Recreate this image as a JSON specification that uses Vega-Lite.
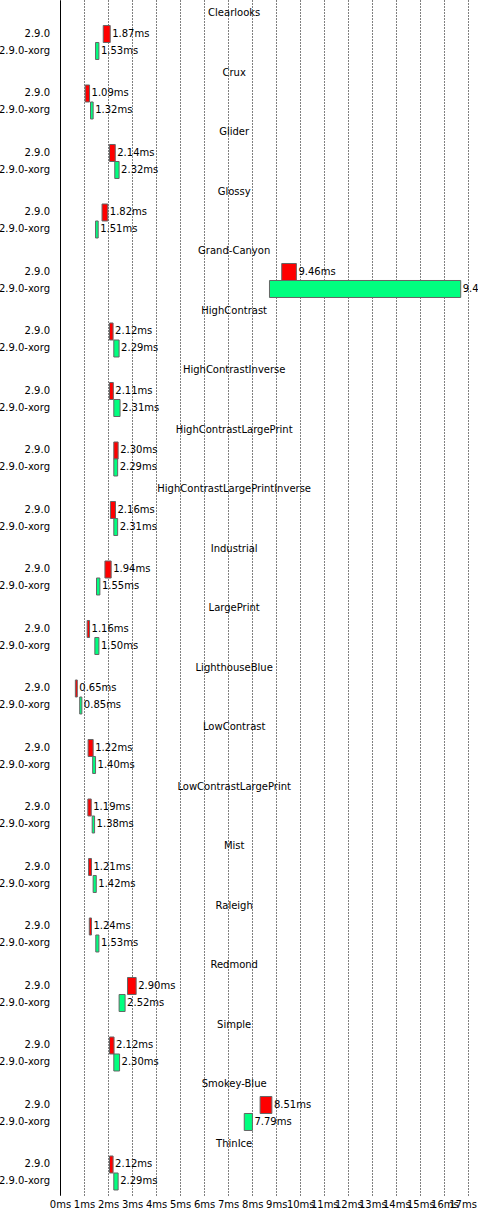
{
  "$schema": "https://vega.github.io/schema/vega-lite/v6.json",
  "autosize": {"type": "none"},
  "padding": {"left": 60, "top": 0, "right": 0, "bottom": 32},
  "width": 418,
  "height": 1195,
  "background": "white",
  "config": {
    "font": "DejaVu Sans",
    "view": {"stroke": null},
    "text": {"fontSize": 10, "font": "DejaVu Sans", "color": "black"},
    "axisX": {
      "values": [0, 1, 2, 3, 4, 5, 6, 7, 8, 9, 10, 11, 12, 13, 14, 15, 16, 17],
      "tickCount": 18,
      "labelExpr": "datum.value + 'ms'",
      "title": null,
      "domain": false,
      "ticks": false,
      "grid": true,
      "gridColor": "black",
      "gridDash": [1, 2],
      "gridOpacity": 1,
      "labelOverlap": false,
      "labelFlush": false,
      "labelPadding": 4,
      "labelFontSize": 10,
      "labelColor": "black",
      "labelFont": "DejaVu Sans"
    }
  },
  "data": {
    "values": [
      {"theme": "Clearlooks", "version": "2.9.0", "lo": 1.80, "hi": 2.09, "mean": 1.87},
      {"theme": "Clearlooks", "version": "2.9.0-xorg", "lo": 1.48, "hi": 1.62, "mean": 1.53},
      {"theme": "Crux", "version": "2.9.0", "lo": 1.05, "hi": 1.23, "mean": 1.09},
      {"theme": "Crux", "version": "2.9.0-xorg", "lo": 1.27, "hi": 1.38, "mean": 1.32},
      {"theme": "Glider", "version": "2.9.0", "lo": 2.06, "hi": 2.30, "mean": 2.14},
      {"theme": "Glider", "version": "2.9.0-xorg", "lo": 2.28, "hi": 2.46, "mean": 2.32},
      {"theme": "Glossy", "version": "2.9.0", "lo": 1.75, "hi": 1.99, "mean": 1.82},
      {"theme": "Glossy", "version": "2.9.0-xorg", "lo": 1.48, "hi": 1.59, "mean": 1.51},
      {"theme": "Grand-Canyon", "version": "2.9.0", "lo": 9.23, "hi": 9.84, "mean": 9.46},
      {"theme": "Grand-Canyon", "version": "2.9.0-xorg", "lo": 8.72, "hi": 16.68, "mean": 9.45},
      {"theme": "HighContrast", "version": "2.9.0", "lo": 2.06, "hi": 2.21, "mean": 2.12},
      {"theme": "HighContrast", "version": "2.9.0-xorg", "lo": 2.24, "hi": 2.46, "mean": 2.29},
      {"theme": "HighContrastInverse", "version": "2.9.0", "lo": 2.06, "hi": 2.22, "mean": 2.11},
      {"theme": "HighContrastInverse", "version": "2.9.0-xorg", "lo": 2.24, "hi": 2.50, "mean": 2.31},
      {"theme": "HighContrastLargePrint", "version": "2.9.0", "lo": 2.24, "hi": 2.42, "mean": 2.30},
      {"theme": "HighContrastLargePrint", "version": "2.9.0-xorg", "lo": 2.24, "hi": 2.40, "mean": 2.29},
      {"theme": "HighContrastLargePrintInverse", "version": "2.9.0", "lo": 2.10, "hi": 2.31, "mean": 2.16},
      {"theme": "HighContrastLargePrintInverse", "version": "2.9.0-xorg", "lo": 2.24, "hi": 2.40, "mean": 2.31},
      {"theme": "Industrial", "version": "2.9.0", "lo": 1.87, "hi": 2.13, "mean": 1.94},
      {"theme": "Industrial", "version": "2.9.0-xorg", "lo": 1.52, "hi": 1.66, "mean": 1.55},
      {"theme": "LargePrint", "version": "2.9.0", "lo": 1.13, "hi": 1.23, "mean": 1.16},
      {"theme": "LargePrint", "version": "2.9.0-xorg", "lo": 1.45, "hi": 1.62, "mean": 1.50},
      {"theme": "LighthouseBlue", "version": "2.9.0", "lo": 0.64, "hi": 0.72, "mean": 0.65},
      {"theme": "LighthouseBlue", "version": "2.9.0-xorg", "lo": 0.82, "hi": 0.91, "mean": 0.85},
      {"theme": "LowContrast", "version": "2.9.0", "lo": 1.17, "hi": 1.38, "mean": 1.22},
      {"theme": "LowContrast", "version": "2.9.0-xorg", "lo": 1.36, "hi": 1.48, "mean": 1.40},
      {"theme": "LowContrastLargePrint", "version": "2.9.0", "lo": 1.16, "hi": 1.30, "mean": 1.19},
      {"theme": "LowContrastLargePrint", "version": "2.9.0-xorg", "lo": 1.34, "hi": 1.44, "mean": 1.38},
      {"theme": "Mist", "version": "2.9.0", "lo": 1.19, "hi": 1.31, "mean": 1.21},
      {"theme": "Mist", "version": "2.9.0-xorg", "lo": 1.38, "hi": 1.51, "mean": 1.42},
      {"theme": "Raleigh", "version": "2.9.0", "lo": 1.22, "hi": 1.31, "mean": 1.24},
      {"theme": "Raleigh", "version": "2.9.0-xorg", "lo": 1.49, "hi": 1.62, "mean": 1.53},
      {"theme": "Redmond", "version": "2.9.0", "lo": 2.81, "hi": 3.17, "mean": 2.90},
      {"theme": "Redmond", "version": "2.9.0-xorg", "lo": 2.46, "hi": 2.71, "mean": 2.52},
      {"theme": "Simple", "version": "2.9.0", "lo": 2.06, "hi": 2.25, "mean": 2.12},
      {"theme": "Simple", "version": "2.9.0-xorg", "lo": 2.24, "hi": 2.48, "mean": 2.30},
      {"theme": "Smokey-Blue", "version": "2.9.0", "lo": 8.33, "hi": 8.82, "mean": 8.51},
      {"theme": "Smokey-Blue", "version": "2.9.0-xorg", "lo": 7.67, "hi": 8.01, "mean": 7.79},
      {"theme": "ThinIce", "version": "2.9.0", "lo": 2.06, "hi": 2.21, "mean": 2.12},
      {"theme": "ThinIce", "version": "2.9.0-xorg", "lo": 2.24, "hi": 2.42, "mean": 2.29}
    ]
  },
  "transform": [{"calculate": "format(datum.mean, '.2f') + 'ms'", "as": "label"}],
  "encoding": {
    "y": {
      "field": "theme",
      "type": "nominal",
      "sort": null,
      "scale": {"paddingInner": 0.42857, "paddingOuter": 0.2563, "align": 0.836},
      "axis": {"labels": false, "ticks": false, "title": null, "domainColor": "black", "domainWidth": 1, "grid": false}
    }
  },
  "layer": [
    {
      "mark": {"type": "bar", "stroke": "#666666", "strokeWidth": 1},
      "encoding": {
        "x": {
          "field": "lo",
          "type": "quantitative",
          "scale": {"domain": [0, 17.4], "nice": false, "zero": true},
          "axis": {
            "values": [0, 1, 2, 3, 4, 5, 6, 7, 8, 9, 10, 11, 12, 13, 14, 15, 16, 17],
            "labelAlign": {"condition": {"test": "datum.value === 17", "value": "right"}, "value": "center"},
            "labelOffset": {"condition": {"test": "datum.value === 17", "value": 8}, "value": 0}
          }
        },
        "x2": {"field": "hi"},
        "yOffset": {"field": "version", "type": "nominal", "sort": null, "scale": {"paddingInner": 0, "paddingOuter": 0}},
        "color": {
          "field": "version",
          "type": "nominal",
          "scale": {"domain": ["2.9.0", "2.9.0-xorg"], "range": ["#ff0000", "#00ff7f"]},
          "legend": null
        }
      }
    },
    {
      "mark": {"type": "text", "align": "left", "baseline": "middle", "dx": 2},
      "encoding": {
        "x": {"field": "hi", "type": "quantitative"},
        "yOffset": {"field": "version", "type": "nominal", "sort": null},
        "text": {"field": "label"}
      }
    },
    {
      "mark": {"type": "text", "align": "right", "baseline": "middle", "dx": -10},
      "encoding": {
        "x": {"datum": 0, "type": "quantitative"},
        "yOffset": {"field": "version", "type": "nominal", "sort": null},
        "text": {"field": "version"}
      }
    },
    {
      "transform": [{"filter": "datum.version === '2.9.0'"}],
      "mark": {"type": "text", "align": "center", "baseline": "middle", "dy": -29},
      "encoding": {
        "x": {"datum": 7.25, "type": "quantitative"},
        "text": {"field": "theme"}
      }
    }
  ]
}
